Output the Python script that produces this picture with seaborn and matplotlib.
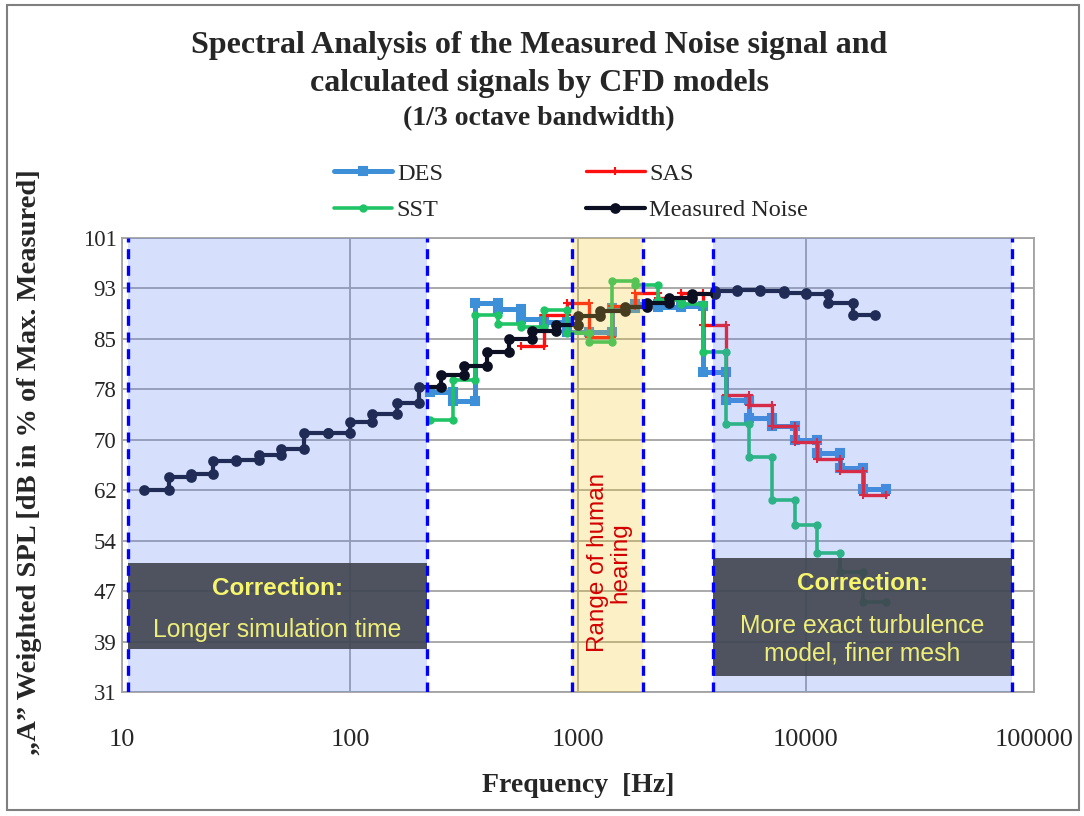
import numpy as np
import pandas as pd
import seaborn as sns
import matplotlib.pyplot as plt
from matplotlib.patches import Rectangle
from matplotlib.ticker import NullLocator

# 1/3 octave band data
# measured noise: nominal band frequencies (edges of the steps), one value per band
meas_freq = [12.5, 16, 20, 25, 31.5, 40, 50, 63, 80, 100, 125, 160, 200, 250, 315, 400,
             500, 630, 800, 1000, 1250, 1600, 2000, 2500, 3150, 4000, 5000, 6300, 8000,
             10000, 12500, 16000, 20000]
meas_spl = [62.1, 64.2, 64.6, 66.6, 66.7, 67.5, 68.5, 71.0, 71.0, 72.6, 73.9, 75.5, 78.0,
            79.8, 81.3, 83.5, 85.4, 86.6, 87.6, 89.0, 89.7, 90.3, 91.0, 91.7, 92.4, 92.8,
            93.0, 92.8, 92.5, 92.4, 91.0, 89.1]

# CFD results: band edge frequencies
cfd_freq = [224, 282, 355, 447, 562, 708, 891, 1122, 1413, 1778, 2239, 2818, 3548, 4467,
            5623, 7079, 8913, 11220, 14130, 17780, 22390]
des_spl = [77.3, 75.8, 91.0, 90.0, 88.5, 88.0, 86.5, 86.5, 90.2, 90.9, 90.4, 90.5, 80.3,
           76.0, 73.2, 72.0, 69.8, 67.9, 65.6, 62.3]
sas_freq = cfd_freq[4:]
sas_spl = [84.3, 89.1, 91.0, 85.8, 90.5, 92.5, 91.8, 92.5, 87.6, 76.8, 75.3, 72.0, 69.6,
           67.0, 65.0, 61.4]
sst_spl = [72.9, 79.1, 89.1, 87.8, 87.3, 89.9, 86.4, 85.0, 94.3, 93.8, 91.5, 90.9, 83.5,
           72.3, 67.3, 60.6, 56.7, 52.4, 49.5, 44.9]

y_ticks = np.linspace(31, 101, 10)
x_ticks = [10, 100, 1000, 10000, 100000]
marker_lines = [10.6, 218, 945, 1920, 3900, 80000]

SERIF = ['Liberation Serif', 'DejaVu Serif']
SANS = ['Liberation Sans', 'DejaVu Sans']


def steps(edges, values):
    # every band is a flat segment between its two edges
    e = np.asarray(edges, float)
    v = np.asarray(values, float)
    return pd.DataFrame({'f': np.repeat(e, 2)[1:-1], 'spl': np.repeat(v, 2)})


sns.set_theme(style='white')
plt.rcParams['font.family'] = SERIF

fig = plt.figure(figsize=(10.84, 8.16), dpi=100)
ax = fig.add_axes([122 / 1084, 1 - 692 / 816, 912 / 1084, 454 / 816])
ax.set_xscale('log')

series = [
    ('DES', cfd_freq, des_spl, '#3d8fd8', 's', 5.5, 3.6, 2),
    ('SAS', sas_freq, sas_spl, '#ff1010', '+', 6, 2.4, 3),
    ('SST', cfd_freq, sst_spl, '#1fc466', 'o', 4.5, 2.6, 3.5),
    ('Measured Noise', meas_freq, meas_spl, '#0c0f22', 'o', 6.2, 3.0, 4),
]
for name, fr, vals, col, mk, ms, lw, z in series:
    sns.lineplot(data=steps(fr, vals), x='f', y='spl', ax=ax, sort=False, estimator=None,
                 color=col, marker=mk, markersize=ms, linewidth=lw, markeredgecolor=col,
                 markeredgewidth=1.5, label=name, zorder=z)

# shaded ranges drawn over the curves
blue = (0.36, 0.51, 0.95)
ax.axvspan(10.6, 218, color=blue, alpha=0.25, lw=0, zorder=5)
ax.axvspan(3900, 80000, color=blue, alpha=0.25, lw=0, zorder=5)
ax.axvspan(945, 1920, color=(0.97, 0.78, 0.12), alpha=0.25, lw=0, zorder=5)

box_kw = dict(facecolor='#40444f', alpha=0.9, lw=0, zorder=6)
ax.add_patch(Rectangle((10.6, 37.6), 218 - 10.6, 13.3, **box_kw))
ax.add_patch(Rectangle((3900, 33.5), 80000 - 3900, 18.2, **box_kw))

for xv in marker_lines:
    ax.axvline(xv, color='#0000ff', lw=2.4, ls=(0, (3, 2)), zorder=7)

txt_kw = dict(ha='center', va='center', family=SANS, zorder=8)
ax.text(48, 47.0, 'Correction:', color='#f6f56c', fontsize=17.5, fontweight='bold', **txt_kw)
ax.text(48, 40.5, 'Longer simulation time', color='#eeee78', fontsize=17.8, **txt_kw)
ax.text(17660, 47.8, 'Correction:', color='#f6f56c', fontsize=17.5, fontweight='bold', **txt_kw)
ax.text(17660, 39.1, 'More exact turbulence\nmodel, finer mesh', color='#eeee78',
        fontsize=17.8, linespacing=1.2, **txt_kw)
ax.text(1370, 51.0, 'Range of human\nhearing', color='#d40000', fontsize=17.5, rotation=90,
        multialignment='center', linespacing=1.0, **txt_kw)

ax.set_xlim(10, 100000)
ax.set_ylim(31, 101)
ax.set_xticks(x_ticks)
ax.set_xticklabels([str(v) for v in x_ticks], fontsize=19)
ax.xaxis.set_minor_locator(NullLocator())
ax.set_yticks(y_ticks)
ax.set_yticklabels([f'{v:.0f}' for v in y_ticks], fontsize=16.5)
ax.tick_params(axis='x', length=0, pad=27)
ax.tick_params(axis='y', length=0, pad=4)
ax.grid(True, which='major', color='#a3a3a3', lw=1.3)
ax.set_axisbelow(True)
for sp in ax.spines.values():
    sp.set_color('#a3a3a3')
    sp.set_linewidth(1.3)
ax.set_xlabel('')
ax.set_ylabel('')

h, l = ax.get_legend_handles_labels()
order = [l.index(n) for n in ['DES', 'SST', 'SAS', 'Measured Noise']]
ax.legend([h[i] for i in order], [l[i] for i in order], loc='center',
          bbox_to_anchor=(571 / 1084, 1 - 192 / 816), bbox_transform=fig.transFigure,
          ncol=2, frameon=False, fontsize=17.5, handlelength=2.4, handletextpad=0.2,
          columnspacing=5.9, labelspacing=0.6)

# titles and axis labels
fig.text(539 / 1084, 1 - 45 / 816, 'Spectral Analysis of the Measured Noise signal and',
         ha='center', va='center', fontsize=23, fontweight='bold')
fig.text(539 / 1084, 1 - 84 / 816, 'calculated signals by CFD models',
         ha='center', va='center', fontsize=23, fontweight='bold')
fig.text(539 / 1084, 1 - 119 / 816, '(1/3 octave bandwidth)',
         ha='center', va='center', fontsize=20, fontweight='bold')
fig.text(578 / 1084, 1 - 786 / 816, 'Frequency  [Hz]', ha='center', va='center',
         fontsize=20, fontweight='bold')
fig.text(30 / 1084, 1 - 462 / 816, '\u201eA\u201d Weighted SPL [dB in % of Max. Measured]',
         ha='center', va='center', rotation=90, fontsize=20.5, fontweight='bold')

fig.add_artist(Rectangle((7 / 1084, 6 / 816), 1072 / 1084, 805 / 816,
                         transform=fig.transFigure, fill=False, ec='#7f7f7f', lw=1.5))

fig.savefig('out.png', dpi=100)
